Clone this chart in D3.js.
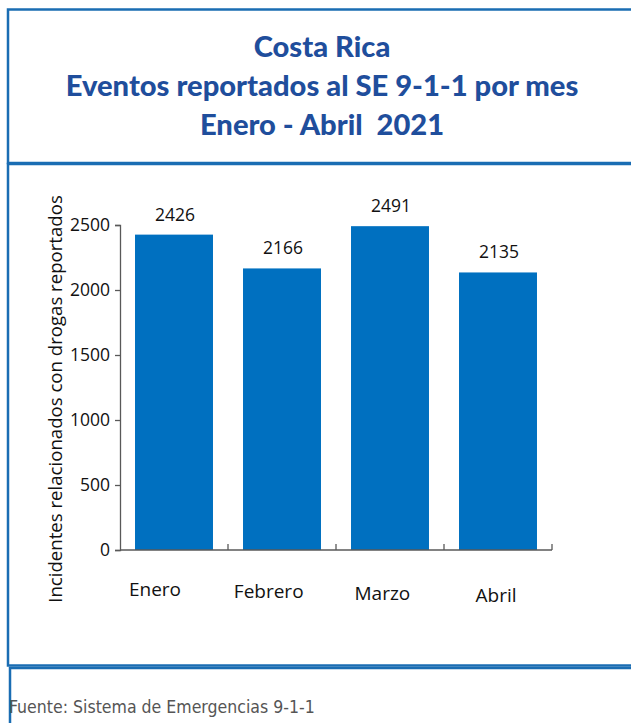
<!DOCTYPE html>
<html>
<head>
<meta charset="utf-8">
<script src="https://cdn.jsdelivr.net/npm/d3@7"></script>
<style>
  html, body { margin: 0; padding: 0; background: #fff; }
  svg { display: block; }
</style>
</head>
<body>
<svg id="chart" width="631" height="723"></svg>
<script>
// ---- data ----
const months = ["Enero", "Febrero", "Marzo", "Abril"];
const events = [2426, 2166, 2491, 2135];
const yTicks = [0, 500, 1000, 1500, 2000, 2500];
const titleLines = ["Costa Rica", "Eventos reportados al SE 9-1-1 por mes", "Enero - Abril  2021"];
const yTitle = "Incidentes relacionados con drogas reportados";
const source = "Fuente: Sistema de Emergencias 9-1-1";

// ---- layout ----
const plot = { left: 120, right: 552, top: 225, bottom: 550 };
const borderColor = "#1a6db3";
const titleColor = "#1f4e9c";
const barColor = "#0070c0";
const axisColor = "#595959";
const textColor = "#111";
const textFont = "'Open Sans', 'Noto Sans', sans-serif";

const svg = d3.select("#chart");

// frames
const frames = [
  { x: 8, y: 9.5, w: 640, h: 153.5 },
  { x: 8, y: 164, w: 640, h: 501.5 },
  { x: 10, y: 668, w: 640, h: 80 }
];
svg.selectAll("rect.frame").data(frames).enter().append("rect")
  .attr("class", "frame")
  .attr("x", d => d.x).attr("y", d => d.y)
  .attr("width", d => d.w).attr("height", d => d.h)
  .attr("fill", "none").attr("stroke", borderColor).attr("stroke-width", 2.5);

// helper: fit font size to target width
function fit(sel, target) {
  const fs = parseFloat(sel.attr("font-size"));
  const w = sel.node().getComputedTextLength();
  if (w > 0) sel.attr("font-size", (fs * target / w).toFixed(2));
  return parseFloat(sel.attr("font-size"));
}

// title: one common size, fitted on the longest line
const titleBase = [57, 96, 135];
const titles = titleLines.map((t, i) => svg.append("text")
    .attr("x", 322).attr("y", titleBase[i])
    .attr("text-anchor", "middle")
    .attr("font-family", "Lato, 'Open Sans', sans-serif")
    .attr("font-weight", 900)
    .attr("font-size", 24)
    .attr("fill", titleColor)
    .style("white-space", "pre")
    .text(t));
const tfs = fit(titles[1], 513);
titles.forEach(t => t.attr("font-size", tfs));

// scales
const x = d3.scaleBand().domain(months).range([plot.left, plot.right])
  .paddingInner(0.278).paddingOuter(0.139);
const y = d3.scaleLinear().domain([0, 2500]).range([plot.bottom, plot.top]);

// bars
svg.selectAll("rect.bar").data(months).enter().append("rect")
  .attr("class", "bar")
  .attr("x", d => x(d))
  .attr("width", x.bandwidth())
  .attr("y", (d, i) => y(events[i]))
  .attr("height", (d, i) => y(0) - y(events[i]))
  .attr("fill", barColor);

// value labels
svg.selectAll("text.val").data(months).enter().append("text")
  .attr("class", "val")
  .attr("x", d => x(d) + x.bandwidth() / 2 + 1)
  .attr("y", (d, i) => y(events[i]) - 14)
  .attr("text-anchor", "middle")
  .attr("font-family", textFont)
  .attr("font-size", 17.5)
  .attr("fill", textColor)
  .text((d, i) => events[i]);

// y axis
const yAxis = svg.append("g")
  .attr("transform", `translate(${plot.left},0)`)
  .call(d3.axisLeft(y).tickValues(yTicks).tickFormat(d3.format("d"))
    .tickSize(5).tickSizeOuter(5).tickPadding(5));
yAxis.select(".domain").attr("stroke", axisColor).attr("stroke-width", 1.3);
yAxis.selectAll(".tick line").attr("stroke", axisColor).attr("stroke-width", 1.3);
yAxis.selectAll(".tick text")
  .attr("font-family", textFont).attr("font-size", 17.5).attr("fill", textColor);

// x axis (line + boundary ticks pointing up)
const step = x.step();
const bounds = months.map((d, i) => plot.left + step * (i + 1));
svg.append("line")
  .attr("x1", plot.left).attr("x2", plot.right)
  .attr("y1", y(0)).attr("y2", y(0))
  .attr("stroke", axisColor).attr("stroke-width", 1.3);
svg.selectAll("line.xtick").data(bounds).enter().append("line")
  .attr("class", "xtick")
  .attr("x1", d => d).attr("x2", d => d)
  .attr("y1", y(0)).attr("y2", y(0) - 6)
  .attr("stroke", axisColor).attr("stroke-width", 1.3);

// category labels (slightly staggered as in the reference)
svg.selectAll("text.cat").data(months).enter().append("text")
  .attr("class", "cat")
  .attr("x", (d, i) => x(d) + x.bandwidth() / 2 - 19 + i * 5.7)
  .attr("y", (d, i) => y(0) + 46 + i * 2)
  .attr("text-anchor", "middle")
  .attr("font-family", textFont)
  .attr("font-size", 19)
  .attr("fill", textColor)
  .text(d => d);

// y title
const yt = svg.append("text")
  .attr("transform", `translate(62,399) rotate(-90)`)
  .attr("text-anchor", "middle")
  .attr("font-family", textFont)
  .attr("font-size", 17)
  .attr("fill", textColor)
  .text(yTitle);
fit(yt, 408);

// source
const src = svg.append("text")
  .attr("x", 9).attr("y", 713)
  .attr("font-family", "'Liberation Sans Narrow', 'DejaVu Sans Condensed', 'Roboto', sans-serif")
  .attr("font-weight", 300)
  .attr("font-size", 16)
  .attr("fill", "#555")
  .text(source);
fit(src, 306);
</script>
</body>
</html>
